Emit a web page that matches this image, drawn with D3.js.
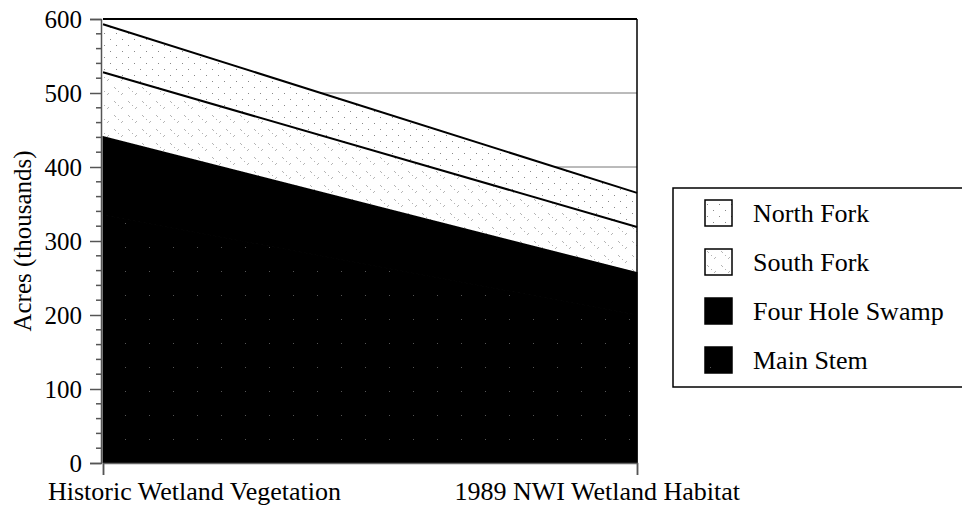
<!DOCTYPE html>
<html>
<head>
<meta charset="utf-8">
<script src="https://cdn.jsdelivr.net/npm/d3@7"></script>
<style>
  html, body { margin: 0; padding: 0; background: #fff; }
  svg { display: block; }
</style>
</head>
<body>
<svg id="chart" width="962" height="505"></svg>
<script>
// ---- data ----
const categories = ["Historic Wetland Vegetation", "1989 NWI Wetland Habitat"];
const seriesNames = ["Main Stem", "Four Hole Swamp", "South Fork", "North Fork"];
const mainStem = [335, 200];
const fourHoleSwamp = [107, 58];
const southFork = [86, 61];
const northFork = [65, 46];
const yTicks = [0, 100, 200, 300, 400, 500, 600];
const legendOrder = ["North Fork", "South Fork", "Four Hole Swamp", "Main Stem"];

const FONT = "'Liberation Serif', Tinos, 'Times New Roman', 'DejaVu Serif', serif";

const valuesBySeries = {
  "Main Stem": mainStem,
  "Four Hole Swamp": fourHoleSwamp,
  "South Fork": southFork,
  "North Fork": northFork
};
const table = categories.map((c, i) => {
  const row = { category: c };
  seriesNames.forEach(s => row[s] = valuesBySeries[s][i]);
  return row;
});

const svg = d3.select("#chart");
const pLeft = 103, pRight = 637, pTop = 19, pBottom = 463;

const x = d3.scalePoint().domain(categories).range([pLeft, pRight]);
const y = d3.scaleLinear().domain([0, 600]).range([pBottom, pTop]);

// ---- patterns ----
const defs = svg.append("defs");
function dotPattern(id, size, bg, dots, col) {
  const p = defs.append("pattern").attr("id", id).attr("patternUnits", "userSpaceOnUse")
    .attr("width", size).attr("height", size);
  p.append("rect").attr("width", size).attr("height", size).attr("fill", bg);
  dots.forEach(([a, b]) => p.append("rect").attr("x", a).attr("y", b)
    .attr("width", 1).attr("height", 1).attr("fill", col));
}
dotPattern("pNorth", 12, "#fff", [[2, 3], [8, 9]], "#888");
dotPattern("pSouth", 14, "#fff", [[2, 3], [3, 4], [9, 10], [10, 9], [6, 7]], "#b5b5b5");
dotPattern("pMain", 24, "#000", [[5, 7]], "#555");

const fills = {
  "North Fork": "url(#pNorth)",
  "South Fork": "url(#pSouth)",
  "Four Hole Swamp": "#000",
  "Main Stem": "url(#pMain)"
};

// ---- gridlines ----
svg.append("g").selectAll("line").data(yTicks.filter(t => t > 0 && t < 600)).join("line")
  .attr("x1", pLeft).attr("x2", pRight)
  .attr("y1", d => y(d)).attr("y2", d => y(d))
  .attr("stroke", "#777").attr("stroke-width", 1);

// ---- stacked areas ----
const stack = d3.stack().keys(seriesNames);
const layers = stack(table);
const area = d3.area()
  .x(d => x(d.data.category))
  .y0(d => y(d[0]))
  .y1(d => y(d[1]));
svg.append("g").selectAll("path").data(layers).join("path")
  .attr("d", area)
  .attr("fill", d => fills[d.key])
  .attr("stroke", d => (d.key === "Main Stem" || d.key === "Four Hole Swamp") ? "#000" : "none")
  .attr("stroke-width", 1);

const line = d3.line().x(d => x(d.data.category)).y(d => y(d[1]));
svg.append("g").selectAll("path")
  .data(layers.filter(l => l.key === "South Fork" || l.key === "North Fork"))
  .join("path")
  .attr("d", line).attr("fill", "none").attr("stroke", "#000").attr("stroke-width", 2);

// ---- frame ----
svg.append("line").attr("x1", pLeft).attr("x2", pRight).attr("y1", pTop).attr("y2", pTop)
  .attr("stroke", "#000").attr("stroke-width", 2);
svg.append("line").attr("x1", pRight).attr("x2", pRight).attr("y1", pTop).attr("y2", pBottom)
  .attr("stroke", "#000").attr("stroke-width", 1.5);

// ---- y axis ----
const yAxis = d3.axisLeft(y).tickValues(yTicks).tickSize(11).tickPadding(8);
const gy = svg.append("g").attr("transform", `translate(${pLeft - 2},0)`).call(yAxis)
  .attr("font-family", null).attr("font-size", null);
gy.select(".domain").attr("stroke", "#555").attr("stroke-width", 1.5);
gy.selectAll(".tick line").attr("stroke", "#555").attr("stroke-width", 1.5);
gy.selectAll("text").style("font-family", FONT).style("font-size", "25px").attr("fill", "#000");
const minor = d3.range(0, 601, 20).filter(v => v % 100 !== 0);
gy.selectAll(".minor").data(minor).join("line").attr("class", "minor")
  .attr("x1", -5).attr("x2", 0).attr("y1", d => y(d)).attr("y2", d => y(d))
  .attr("stroke", "#555").attr("stroke-width", 1.5);

// ---- x axis ----
const xAxis = d3.axisBottom(x).tickSize(12).tickFormat("");
const gx = svg.append("g").attr("transform", `translate(0,${pBottom})`).call(xAxis);
gx.select(".domain").attr("stroke", "#666").attr("stroke-width", 1.5);
gx.selectAll(".tick line").attr("stroke", "#555").attr("stroke-width", 1.5);

svg.append("text").attr("x", x(categories[0]) - 55).attr("y", 500)
  .attr("text-anchor", "start").style("font-family", FONT).style("font-size", "26px").text(categories[0]);
svg.append("text").attr("x", x(categories[1]) + 103).attr("y", 500)
  .attr("text-anchor", "end").style("font-family", FONT).style("font-size", "26px").text(categories[1]);

// ---- y title ----
svg.append("text")
  .attr("transform", `translate(31,${(pTop + pBottom) / 2}) rotate(-90)`)
  .attr("text-anchor", "middle").style("font-family", FONT).style("font-size", "25px")
  .text("Acres (thousands)");

// ---- legend ----
const lg = svg.append("g");
lg.append("rect").attr("x", 673).attr("y", 188).attr("width", 300).attr("height", 199)
  .attr("fill", "#fff").attr("stroke", "#000").attr("stroke-width", 1.5);
const items = lg.selectAll("g.item").data(legendOrder).join("g").attr("class", "item")
  .attr("transform", (d, i) => `translate(705,${213 + i * 49})`);
items.append("rect").attr("x", 0).attr("y", -13).attr("width", 27).attr("height", 26)
  .attr("fill", d => fills[d])
  .attr("stroke", "#000").attr("stroke-width", 1.5);
items.append("text").attr("x", 48).attr("y", 0).attr("dy", "0.35em")
  .style("font-family", FONT).style("font-size", "26px").text(d => d);
</script>
</body>
</html>
